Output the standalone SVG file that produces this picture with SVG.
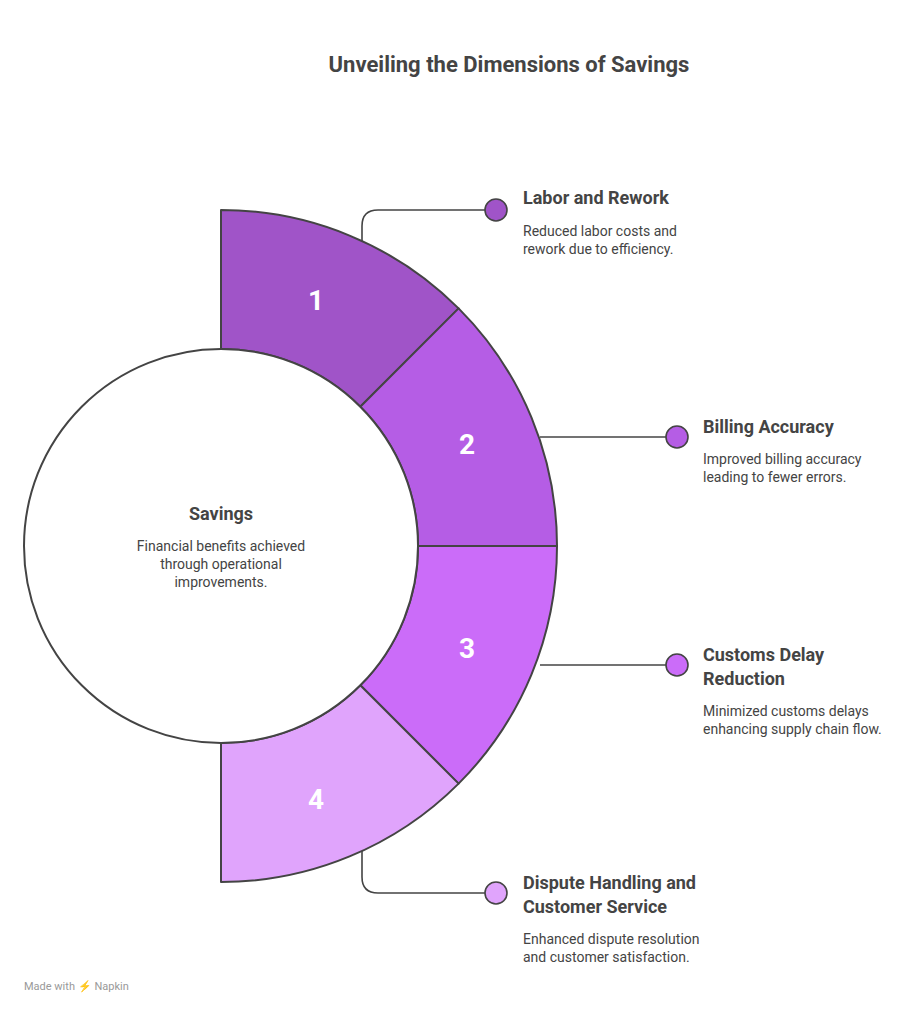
<svg xmlns="http://www.w3.org/2000/svg" width="921" height="1014" viewBox="0 0 921 1014">
<style>
.seg{stroke:#444;stroke-width:2;stroke-linejoin:round}
.num{font:bold 28px Roboto,"Liberation Sans",sans-serif;fill:#fff;text-anchor:middle}
.t{font:bold 18px Roboto,"Liberation Sans",sans-serif;fill:#444}
.d{font:14px Roboto,"Liberation Sans",sans-serif;fill:#444}
.ln{fill:none;stroke:#444;stroke-width:1.6}
.dot{stroke:#444;stroke-width:1.6}
</style>
<rect width="921" height="1014" fill="#fff"/>
<text x="509" y="72" text-anchor="middle" style="font:bold 22px Roboto,'Liberation Sans',sans-serif;fill:#444">Unveiling the Dimensions of Savings</text>
<g id="connectors">
<path class="ln" d="M362,242 V226 Q362,210 378,210 H485"/>
<path class="ln" d="M540,437 H666"/>
<path class="ln" d="M540,665 H666"/>
<path class="ln" d="M362,850 V877 Q362,893 378,893 H485"/>
</g>
<g id="seg1"><path class="seg" fill="#A054C8" d="M221,210 A336,336 0 0 1 458.6,308.4 L360.3,406.7 A197,197 0 0 0 221,349 Z"/><text class="num" x="316" y="310">1</text></g>
<g id="seg2"><path class="seg" fill="#B55DE5" d="M458.6,308.4 A336,336 0 0 1 557,546 L418,546 A197,197 0 0 0 360.3,406.7 Z"/><text class="num" x="467" y="454">2</text></g>
<g id="seg3"><path class="seg" fill="#CB6CF9" d="M557,546 A336,336 0 0 1 458.6,783.6 L360.3,685.3 A197,197 0 0 0 418,546 Z"/><text class="num" x="467" y="658">3</text></g>
<g id="seg4"><path class="seg" fill="#E0A4FC" d="M458.6,783.6 A336,336 0 0 1 221,882 L221,743 A197,197 0 0 0 360.3,685.3 Z"/><text class="num" x="316" y="809">4</text></g>
<g id="center"><circle cx="221" cy="546" r="197" fill="#fff" stroke="#444" stroke-width="2"/>
<text class="t" x="221" y="520" text-anchor="middle">Savings</text>
<text class="d" x="221" y="551" text-anchor="middle">Financial benefits achieved</text>
<text class="d" x="221" y="569" text-anchor="middle">through operational</text>
<text class="d" x="221" y="587" text-anchor="middle">improvements.</text></g>
<g id="n1"><circle class="dot" cx="496" cy="210" r="11" fill="#A054C8"/>
<text class="t" x="523" y="204">Labor and Rework</text>
<text class="d" x="523" y="236">Reduced labor costs and</text>
<text class="d" x="523" y="254">rework due to efficiency.</text></g>
<g id="n2"><circle class="dot" cx="677" cy="437" r="11" fill="#B55DE5"/>
<text class="t" x="703" y="433">Billing Accuracy</text>
<text class="d" x="703" y="464">Improved billing accuracy</text>
<text class="d" x="703" y="482">leading to fewer errors.</text></g>
<g id="n3"><circle class="dot" cx="677" cy="665" r="11" fill="#CB6CF9"/>
<text class="t" x="703" y="661">Customs Delay</text>
<text class="t" x="703" y="685">Reduction</text>
<text class="d" x="703" y="716">Minimized customs delays</text>
<text class="d" x="703" y="734">enhancing supply chain flow.</text></g>
<g id="n4"><circle class="dot" cx="496" cy="893" r="11" fill="#E0A4FC"/>
<text class="t" x="523" y="889">Dispute Handling and</text>
<text class="t" x="523" y="913">Customer Service</text>
<text class="d" x="523" y="944">Enhanced dispute resolution</text>
<text class="d" x="523" y="962">and customer satisfaction.</text></g>
<text x="24" y="990" style="font:11px Roboto,'Liberation Sans',sans-serif;fill:#999">Made with ⚡ Napkin</text>
</svg>
